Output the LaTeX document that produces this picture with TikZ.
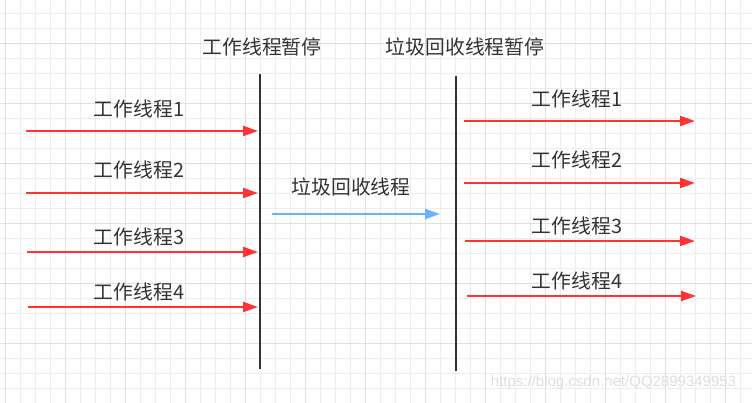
\documentclass[tikz,border=0pt]{standalone}
\usepackage{fontspec}
\setmainfont{Noto Sans CJK SC}
\newfontfamily\wmfont{Liberation Sans}
\usetikzlibrary{arrows.meta}
\definecolor{gridlight}{HTML}{EDEDED}
\definecolor{griddark}{HTML}{E0E0E0}
\definecolor{wred}{HTML}{FF3333}
\definecolor{gblue}{HTML}{66B2FF}
\definecolor{txt}{HTML}{333333}
\definecolor{barc}{HTML}{333333}
\tikzset{
  lbl/.style={text=txt, inner sep=0pt, font=\fontsize{19.8}{20}\selectfont},
  warrow/.style={draw=wred, line width=2pt, -{Triangle[length=15pt,width=10pt]}},
  garrow/.style={draw=gblue, line width=2pt, -{Triangle[length=15pt,width=10pt]}},
  bar/.style={draw=barc, line width=2pt},
}
\begin{document}
\begin{tikzpicture}[x=1pt,y=-1pt]
\useasboundingbox (0,0) rectangle (752,403);
\fill[white] (0,0) rectangle (752,403);
% grid
\foreach \i in {0,...,49} {
  \draw[gridlight, line width=1pt] ({5.7+15*\i},0) -- ({5.7+15*\i},403);
}
\foreach \i in {0,...,26} {
  \draw[gridlight, line width=1pt] (0,{13.3+15*\i}) -- (752,{13.3+15*\i});
}
\foreach \i in {0,...,12} {
  \draw[griddark, line width=1pt] ({5.7+60*\i},0) -- ({5.7+60*\i},403);
}
\foreach \i in {0,...,6} {
  \draw[griddark, line width=1pt] (0,{43.3+60*\i}) -- (752,{43.3+60*\i});
}

% titles
\node[lbl] (t1) at (262,47) {工作线程暂停};
\node[lbl] (t2) at (465,47) {垃圾回收线程暂停};

% vertical bars
\coordinate (b1t) at (260,74);
\coordinate (b1b) at (260,369);
\coordinate (b2t) at (456,76);
\coordinate (b2b) at (456,371);
\draw[bar] (b1t) -- (b1b);
\draw[bar] (b2t) -- (b2b);

% left arrows
\coordinate (l1s) at (26,131);  \coordinate (l1e) at (258,131);
\coordinate (l2s) at (26,193);  \coordinate (l2e) at (258,193);
\coordinate (l3s) at (27,252);  \coordinate (l3e) at (258,252);
\coordinate (l4s) at (28,307);  \coordinate (l4e) at (258,307);
\draw[warrow] (l1s) -- (l1e);
\draw[warrow] (l2s) -- (l2e);
\draw[warrow] (l3s) -- (l3e);
\draw[warrow] (l4s) -- (l4e);
\node[lbl] (ll1) at (139,109) {工作线程1};
\node[lbl] (ll2) at (139,170) {工作线程2};
\node[lbl] (ll3) at (139,237) {工作线程3};
\node[lbl] (ll4) at (139,292) {工作线程4};

% gc arrow
\coordinate (gs) at (272,214); \coordinate (ge) at (440,214);
\draw[garrow] (gs) -- (ge);
\node[lbl] (gl) at (351,187) {垃圾回收线程};

% right arrows
\coordinate (r1s) at (464,121);  \coordinate (r1e) at (695,121);
\coordinate (r2s) at (464,183);  \coordinate (r2e) at (695,183);
\coordinate (r3s) at (465,241);  \coordinate (r3e) at (695,241);
\coordinate (r4s) at (467,296);  \coordinate (r4e) at (696,296);
\draw[warrow] (r1s) -- (r1e);
\draw[warrow] (r2s) -- (r2e);
\draw[warrow] (r3s) -- (r3e);
\draw[warrow] (r4s) -- (r4e);
\node[lbl] (rl1) at (577,99) {工作线程1};
\node[lbl] (rl2) at (577,160) {工作线程2};
\node[lbl] (rl3) at (577,226) {工作线程3};
\node[lbl] (rl4) at (577,281) {工作线程4};

% watermark
\node[inner sep=0pt, text=black!13, font=\wmfont\fontsize{15}{15}\selectfont] (wm) at (613.5,383) {https://blog.csdn.net/QQ2899349953};
\end{tikzpicture}
\end{document}
